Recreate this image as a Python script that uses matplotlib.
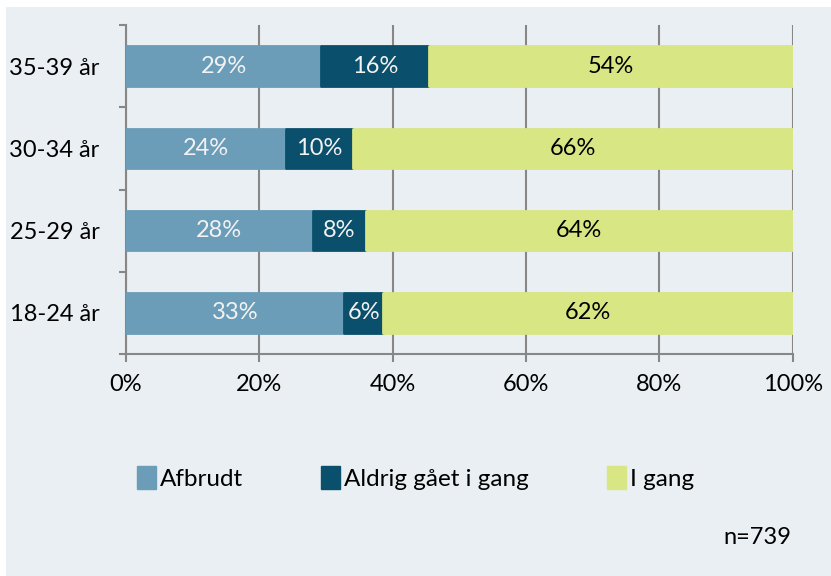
import matplotlib
matplotlib.use("Agg")
import matplotlib.pyplot as plt
from matplotlib.patches import Rectangle, Patch

plt.rcParams['font.family'] = ['Lato', 'DejaVu Sans']

groups = ["35-39 år", "30-34 år", "25-29 år", "18-24 år"]
series = ["Afbrudt", "Aldrig gået i gang", "I gang"]
afbrudt = [29, 24, 28, 33]
aldrig = [16, 10, 8, 6]
i_gang = [54, 66, 64, 62]
colors = ["#6b9db8", "#0a4f6b", "#d8e683"]
text_colors = ["#f2f2f2", "#f2f2f2", "#000000"]
xticks = [0, 20, 40, 60, 80, 100]
note = "n=739"

W, H = 831, 576
fig = plt.figure(figsize=(W / 100, H / 100), dpi=100, facecolor="white")
fig.patches.append(Rectangle((6 / W, 0), 1, 1 - 7 / H, transform=fig.transFigure,
                             facecolor="#e9eff2", edgecolor="none", zorder=-10))

ax = fig.add_axes([126 / W, 1 - 354 / H, 666.7 / W, 329 / H])
ax.set_facecolor("none")

data = [afbrudt, aldrig, i_gang]
ypos = list(range(len(groups)))
for r in range(len(groups)):
    total = sum(d[r] for d in data)
    left = 0
    for k in range(3):
        w = data[k][r] / total * 100
        ax.barh(ypos[r], w, left=left, height=0.48, color=colors[k],
                edgecolor=colors[k], linewidth=2, joinstyle="round", zorder=3)
        ax.text(left + w / 2, ypos[r], f"{data[k][r]}%", ha="center", va="center",
                fontsize=17, color=text_colors[k], zorder=4)
        left += w

ax.set_xlim(0, 100)
ax.set_ylim(len(groups) - 0.5, -0.5)
ax.set_xticks(xticks)
ax.set_xticklabels([f"{t}%" for t in xticks], fontsize=17)
ax.set_yticks(ypos)
ax.set_yticklabels(groups, fontsize=17)
ax.set_yticks([y - 0.5 for y in range(len(groups) + 1)], minor=True)
ax.tick_params(axis="y", which="major", length=0, pad=19)
ax.tick_params(axis="y", which="minor", length=5, width=1.5, color="#878787")
ax.tick_params(axis="x", length=5.5, width=1.5, color="#878787", pad=9)
ax.grid(axis="x", color="#878787", linewidth=1.5, zorder=1)
ax.set_axisbelow(True)
for s in ["top", "right"]:
    ax.spines[s].set_visible(False)
for s in ["left", "bottom"]:
    ax.spines[s].set_color("#878787")
    ax.spines[s].set_linewidth(1.5)

handles = [Patch(facecolor=c, edgecolor=c, joinstyle="round", linewidth=1) for c in colors]
fig.legend(handles, series, loc="center left", bbox_to_anchor=(137 / W, 1 - 478 / H),
           ncol=3, frameon=False, fontsize=17.5, handlelength=0.8, handleheight=1.1,
           handletextpad=0.15, columnspacing=3.2, borderaxespad=0, borderpad=0)

fig.text(791 / W, 1 - 537 / H, note, ha="right", va="center", fontsize=17)

fig.savefig("out.png", dpi=100, facecolor=fig.get_facecolor())
